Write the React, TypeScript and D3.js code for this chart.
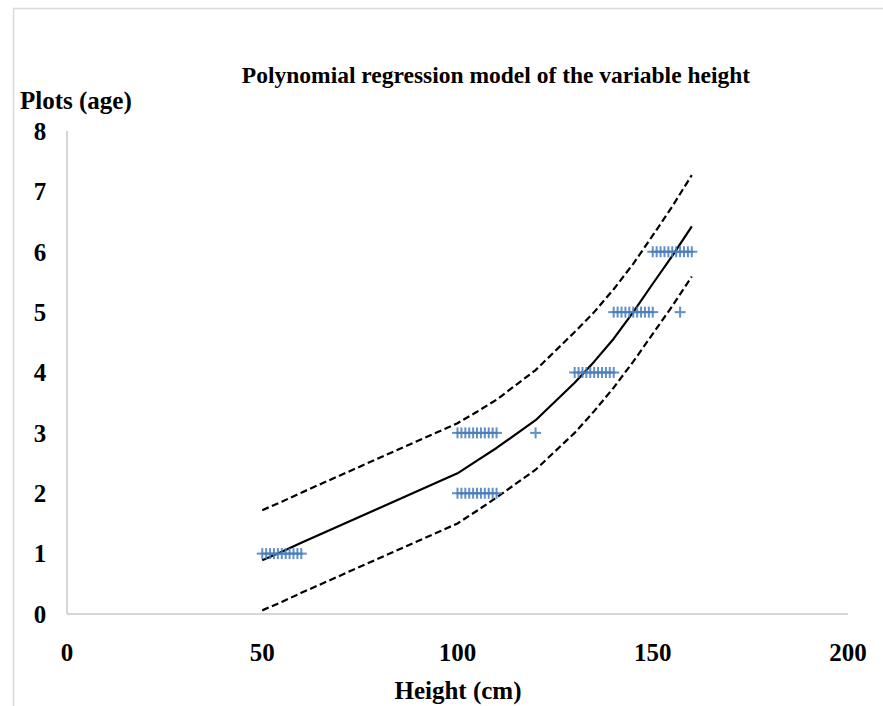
import React from 'react';
import * as d3 from 'd3';

// observed heights (cm) for each age class
const age1 = [50, 51, 52, 53, 54, 55, 56, 57, 58, 59, 60];
const age2 = [100, 101, 102, 103, 104, 105, 106, 107, 108, 109, 110];
const age3 = [100, 101, 102, 103, 104, 105, 106, 107, 108, 109, 110, 120];
const age4 = [130, 131, 132, 133, 134, 135, 136, 137, 138, 139, 140];
const age5 = [140, 141, 142, 143, 144, 145, 146, 147, 148, 149, 150, 157];
const age6 = [150, 151, 152, 153, 154, 155, 156, 157, 158, 159, 160];

// model curve and confidence band, read at these heights
const curveX = [50, 55, 60, 100, 105, 110, 120, 130, 135, 140, 145, 150, 155, 160];
const fitY = [0.89, 1.03, 1.18, 2.33, 2.54, 2.75, 3.21, 3.83, 4.18, 4.56, 5.0, 5.47, 5.93, 6.42];
const upperY = [1.72, 1.86, 2.01, 3.16, 3.35, 3.55, 4.04, 4.67, 5.0, 5.38, 5.8, 6.27, 6.75, 7.27];
const lowerY = [0.06, 0.2, 0.35, 1.5, 1.71, 1.93, 2.39, 3.0, 3.36, 3.75, 4.18, 4.64, 5.1, 5.59];

const xTicks = [0, 50, 100, 150, 200];
const yTicks = [0, 1, 2, 3, 4, 5, 6, 7, 8];

const W = 883;
const H = 706;
const FONT = '"Liberation Serif", "Times New Roman", serif';

export default function App() {
  const x = d3.scaleLinear().domain([0, 200]).range([67, 848]);
  const y = d3.scaleLinear().domain([0, 8]).range([614, 131]);

  const points = [
    ...age1.map((h) => [h, 1]),
    ...age2.map((h) => [h, 2]),
    ...age3.map((h) => [h, 3]),
    ...age4.map((h) => [h, 4]),
    ...age5.map((h) => [h, 5]),
    ...age6.map((h) => [h, 6]),
  ];

  // Excel joins the predicted points with straight segments
  const line = d3
    .line<number>()
    .x((d, i) => x(curveX[i]))
    .y((d) => y(d));

  const label = { fontFamily: FONT, fontWeight: 'bold' as const, fontSize: 25 };
  const title = { ...label, fontSize: 23.5 };

  return (
    <svg width={W} height={H} style={{ position: 'absolute', left: 0, top: 0, background: '#fff' }}>
      {/* chart frame */}
      <rect x={13.5} y={8.5} width={880} height={720} fill="none" stroke="#d9d9d9" strokeWidth={1.5} />

      {/* axes */}
      <line x1={x(0)} x2={x(200)} y1={y(0)} y2={y(0)} stroke="#c8c8c8" strokeWidth={1.5} />
      <line x1={x(0)} x2={x(0)} y1={y(0)} y2={y(8)} stroke="#c8c8c8" strokeWidth={1.5} />

      {/* y tick labels */}
      {yTicks.map((t) => (
        <text key={'y' + t} x={40} y={y(t)} dy="0.35em" textAnchor="middle" style={label}>
          {t}
        </text>
      ))}
      {/* x tick labels */}
      {xTicks.map((t) => (
        <text key={'x' + t} x={x(t)} y={652} dy="0.35em" textAnchor="middle" style={label}>
          {t}
        </text>
      ))}

      {/* confidence band */}
      <path d={line(upperY) || ''} fill="none" stroke="#000" strokeWidth={2.2} strokeDasharray="7,3.5" />
      <path d={line(lowerY) || ''} fill="none" stroke="#000" strokeWidth={2.2} strokeDasharray="7,3.5" />
      {/* model */}
      <path d={line(fitY) || ''} fill="none" stroke="#000" strokeWidth={2.2} strokeLinejoin="round" />

      {/* observations */}
      {points.map(([h, a], i) => (
        <g key={'p' + i} transform={`translate(${x(h)},${y(a)})`} stroke="#4a7ebb" strokeWidth={2} opacity={0.85}>
          <line x1={-5.5} x2={5.5} y1={0} y2={0} />
          <line x1={0} x2={0} y1={-5.5} y2={5.5} />
        </g>
      ))}

      {/* titles */}
      <text x={496} y={75} dy="0.35em" textAnchor="middle" style={title}>
        Polynomial regression model of the variable height
      </text>
      <text x={20} y={100} dy="0.35em" textAnchor="start" style={label}>
        Plots (age)
      </text>
      <text x={458} y={690} dy="0.35em" textAnchor="middle" style={label}>
        Height (cm)
      </text>
    </svg>
  );
}
